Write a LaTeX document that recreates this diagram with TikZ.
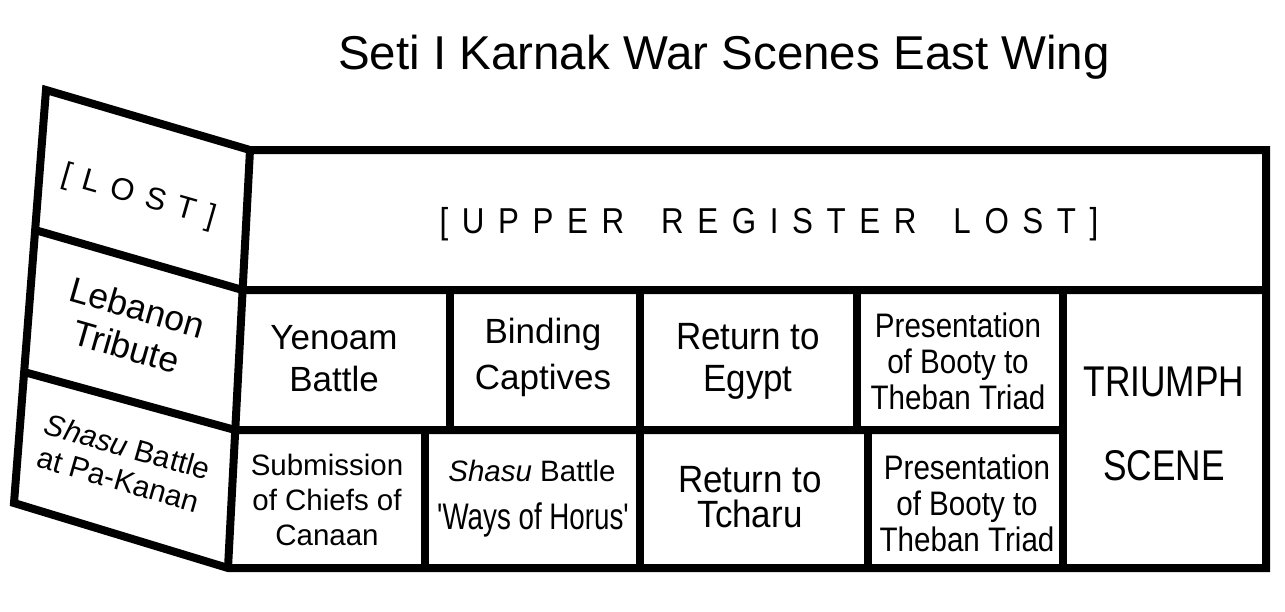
\documentclass[tikz,border=0pt]{standalone}
\usepackage{fontspec}
\setmainfont{Liberation Sans}
\newfontfamily\condA[FakeStretch=0.92]{Liberation Sans}
\newfontfamily\condB[FakeStretch=0.87]{Liberation Sans}
\newfontfamily\condC[FakeStretch=0.82]{Liberation Sans}
\newfontfamily\condD[FakeStretch=0.75]{Liberation Sans}
\newcommand\fs[2]{\fontsize{#1}{#2}\selectfont}
\newcommand\gp{\hspace{13.6pt}}
\newcommand\wg{\hspace{37pt}}
\newcommand\lgap{\hspace{12pt}}
\begin{document}
\begin{tikzpicture}[x=1pt,y=-1pt,
  wall/.style={line width=8pt, line join=miter},
  lbl/.style={align=center, inner sep=0pt, text=black}]
\useasboundingbox (0,0) rectangle (1285,611);
\fill[white] (0,0) rectangle (1285,611);
% corners
\coordinate (wA) at (46,90);
\coordinate (pTL) at (250,150);
\coordinate (pBL) at (228,568);
\coordinate (wD) at (14,503);
\coordinate (pTR) at (1266,150);
\coordinate (pBR) at (1266,568);
\coordinate (m1) at (242.6,290);
\coordinate (m2) at (235.2,430);
\coordinate (w1) at (35,230);
\coordinate (w2) at (24,372);
\coordinate (r1) at (1266,290);
\coordinate (t1) at (1063,290);
\coordinate (t2) at (1063,430);
\coordinate (t3) at (1063,568);
% outline
\draw[wall] (wA) -- (pTL) -- (pTR) -- (pBR) -- (pBL) -- (wD) -- cycle;
\draw[wall] (pTL) -- (pBL);
\draw[wall] (w1) -- (m1) -- (r1);
\draw[wall] (w2) -- (m2) -- (t2);
\draw[wall] (t1) -- (t3);
% middle row dividers
\draw[wall] (450,290) -- (450,430);
\draw[wall] (640,290) -- (640,568);
\draw[wall] (857,290) -- (857,430);
% bottom row dividers
\draw[wall] (425,430) -- (425,568);
\draw[wall] (868,430) -- (868,568);
% title
\node[lbl, font=\fs{47.5}{52}, anchor=base] (title) at (724,69) {Seti I Karnak War Scenes East Wing};
\node[lbl, font=\condB\fs{36}{40}, anchor=base] (upper) at (769,233)
  {[\gp U\gp P\gp P\gp E\gp R\wg R\gp E\gp G\gp I\gp S\gp T\gp E\gp R\wg L\gp O\gp S\gp T\gp]};
% wing
\node[lbl, font=\fs{31}{34}, rotate=-16] (lost) at (139,197) {[\lgap L\lgap O\lgap S\lgap T\lgap]};
\node[lbl, font=\fs{35.5}{41}, rotate=-16] (leb) at (132,327) {Lebanon\\Tribute};
\node[lbl, font=\fs{30}{34}, rotate=-16] (pakanan) at (123,463) {\textit{Shasu} Battle\\at Pa-Kanan};
% middle row
\node[lbl, font=\fs{35}{42}] (yen) at (334,359) {Yenoam\\Battle};
\node[lbl, font=\fs{35}{46}] (bind) at (543,357) {Binding\\Captives};
\node[lbl, font=\condA\fs{38}{42}] (egypt) at (748,361) {Return to\\Egypt};
\node[lbl, font=\condB\fs{34}{36}] (pres1) at (958,361) {Presentation\\of Booty to\\Theban Triad};
\node[lbl, font=\condC\fs{43}{84}] (tri) at (1164,424) {TRIUMPH\\SCENE};
% bottom row
\node[lbl, font=\fs{29.5}{35}] (sub) at (327,500) {Submission\\of Chiefs of\\Canaan};
\node[lbl, font=\fs{29.5}{35}, anchor=base] (shasu) at (532,481) {\textit{Shasu} Battle};
\node[lbl, font=\condD\fs{37}{42}, anchor=base] (ways) at (533,529) {'Ways of Horus'};
\node[lbl, font=\condA\fs{38}{35}] (tcharu) at (750,497) {Return to\\Tcharu};
\node[lbl, font=\condB\fs{34}{36}] (pres2) at (967,503) {Presentation\\of Booty to\\Theban Triad};
\end{tikzpicture}
\end{document}
